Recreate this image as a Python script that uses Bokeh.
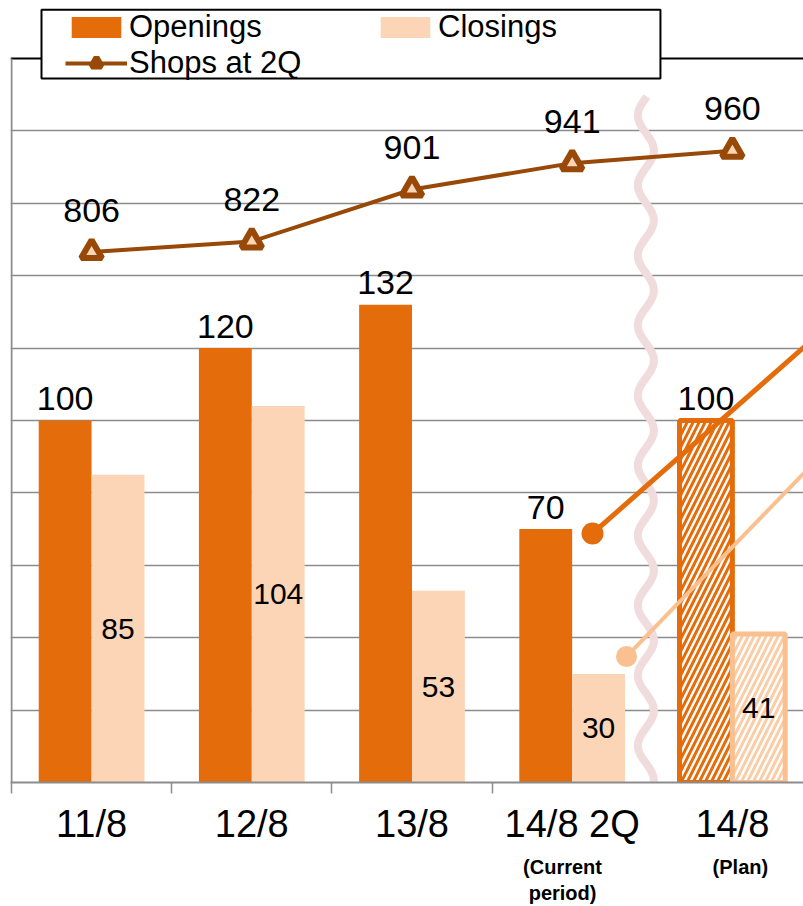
import numpy as np
from bokeh.plotting import figure
from bokeh.models import (Range1d, FixedTicker, Grid, Span, Legend, LegendItem,
                          BoxAnnotation, ColumnDataSource, LinearAxis)
from bokeh.core.properties import value
from bokeh.embed import file_html
from bokeh.resources import INLINE

# ---- data -------------------------------------------------------------
periods = ["11/8", "12/8", "13/8", "14/8 2Q", "14/8"]
openings = [100, 120, 132, 70, 100]        # shop openings per period
closings = [85, 104, 53, 30, 41]           # shop closings per period
shops = [806, 822, 901, 941, 960]          # shops at 2Q (right scale)
plan_index = 4                             # last period is the plan
note_x = [2.94, 4.05]                      # notes under the last two periods
notes = ["(Current\nperiod)", "(Plan)"]

# callout lines leading out of the chart to the right (x in period units, y in bar units)
callout_open_x = [3.127, 4.62]
callout_open_y = [68.8, 127.0]
callout_close_x = [3.339, 4.62]
callout_close_y = [34.8, 93.4]

# ---- style ------------------------------------------------------------
ORANGE = "#E46C0A"
PEACH = "#FBD5B5"
PEACH_LINE = "#FAC090"
BROWN = "#984807"
GRID = "#8C8C8C"
BREAK = "#F0DCDC"
FONT = "Liberation Sans"

BAR_W = 0.33
BAR_MAX = 200          # top border of the bar scale
PX_UNIT = 3.62         # pixels per bar unit (frame 782 px tall)
xs = list(range(len(periods)))
actual = [i for i in xs if i != plan_index]

act_src = ColumnDataSource(dict(
    xo=[i - BAR_W / 2 for i in actual],
    xc=[i + BAR_W / 2 for i in actual],
    op=[openings[i] for i in actual],
    cl=[closings[i] for i in actual],
))
plan_src = ColumnDataSource(dict(
    xo=[plan_index - BAR_W / 2],
    xc=[plan_index + BAR_W / 2],
    op=[openings[plan_index]],
    cl=[closings[plan_index]],
))
lab_src = ColumnDataSource(dict(
    xo=[i - BAR_W / 2 for i in xs],
    xc=[i + BAR_W / 2 for i in xs],
    op=openings,
    cl_mid=[c / 2 for c in closings],
    op_txt=[str(v) for v in openings],
    cl_txt=[str(v) for v in closings],
))
shop_src = ColumnDataSource(dict(x=xs, y=shops, txt=[str(v) for v in shops]))

y_top = BAR_MAX + 58 / PX_UNIT             # room above the chart for the legend
p = figure(width=803, height=906, output_backend="svg", toolbar_location=None,
           x_range=Range1d(-0.5 - 1 / 160.2, 4.444), y_range=Range1d(0, y_top),
           y_axis_location=None, min_border_left=10, min_border_right=0,
           min_border_top=0, min_border_bottom=124)
p.extra_y_ranges = {"shops": Range1d(0, 1100 * y_top / BAR_MAX)}
p.outline_line_color = None
p.center = [r for r in p.center if not isinstance(r, Grid)]
p.background_fill_color = "white"
p.border_fill_color = "white"

# horizontal gridlines
p.add_layout(Grid(dimension=1, ticker=FixedTicker(ticks=list(range(20, BAR_MAX, 20))),
                  grid_line_color=GRID, grid_line_width=1.5, level="underlay"))
# top border and left axis line
p.add_layout(Span(location=BAR_MAX, dimension="width", line_color="black",
                  line_width=2, level="underlay"))
p.line([-0.5, -0.5], [0, BAR_MAX], line_color=GRID, line_width=2)

# x axis: labels at period centres, tick marks between periods
ax = p.xaxis[0]
ax.ticker = FixedTicker(ticks=xs, minor_ticks=[-0.5, 0.5, 1.5, 2.5])
ax.major_label_overrides = {i: t for i, t in zip(xs, periods)}
ax.axis_line_color = GRID
ax.axis_line_width = 2
ax.major_tick_out = 0
ax.major_tick_in = 0
ax.minor_tick_out = 11
ax.minor_tick_in = 0
ax.minor_tick_line_color = GRID
ax.minor_tick_line_width = 1.5
ax.major_label_text_font = FONT
ax.major_label_text_font_size = "38px"
ax.major_label_text_color = "black"
ax.major_label_standoff = 9

# second row of period notes
note_axis = LinearAxis(ticker=FixedTicker(ticks=note_x),
                       major_label_overrides={x: t for x, t in zip(note_x, notes)},
                       axis_line_color=None, major_tick_line_color=None,
                       minor_tick_line_color=None, major_tick_out=0,
                       major_label_standoff=8, major_label_text_font=FONT,
                       major_label_text_font_size="20px",
                       major_label_text_font_style="bold",
                       major_label_text_color="black",
                       major_label_text_line_height=1.2)
p.add_layout(note_axis, "below")

# bars (actual periods)
r_open = p.vbar(x="xo", top="op", width=BAR_W, source=act_src,
                fill_color=ORANGE, line_color=None)
r_close = p.vbar(x="xc", top="cl", width=BAR_W, source=act_src,
                 fill_color=PEACH, line_color=None)
# bars (plan) – hatched outlines
p.vbar(x="xo", top="op", width=BAR_W, source=plan_src, fill_color="white",
       line_color=ORANGE, line_width=5, hatch_pattern="/", hatch_color=ORANGE,
       hatch_scale=12, hatch_weight=3)
p.vbar(x="xc", top="cl", width=BAR_W, source=plan_src, fill_color="white",
       line_color=PEACH_LINE, line_width=5, hatch_pattern="/",
       hatch_color=PEACH_LINE, hatch_alpha=0.8, hatch_scale=12, hatch_weight=3)

# axis break marker between the current period and the plan
wy = np.linspace(189.5, -5, 500)
wx = 3.46 + 0.05 * np.cos(2 * np.pi * (wy - 174.6) / 19.34)
p.line(wx, wy, line_color=BREAK, line_width=8)

# callouts
p.line(callout_open_x, callout_open_y, line_color=ORANGE, line_width=5)
p.scatter(callout_open_x[:1], callout_open_y[:1], size=22, fill_color=ORANGE,
          line_color=None)
p.line(callout_close_x, callout_close_y, line_color=PEACH_LINE, line_width=4)
p.scatter(callout_close_x[:1], callout_close_y[:1], size=21,
          fill_color=PEACH_LINE, line_color=None)

# shops line
r_shop_line = p.line("x", "y", source=shop_src, y_range_name="shops",
                     line_color=BROWN, line_width=4)
r_shop_pts = p.scatter("x", "y", source=shop_src, y_range_name="shops",
                       marker="triangle", size=21, fill_color=PEACH,
                       line_color=BROWN, line_width=6)

# value labels
p.text(x="xo", y="op", text="op_txt", source=lab_src, text_align="center",
       text_baseline="alphabetic", y_offset=-22, text_font=value(FONT),
       text_font_size="34px", text_color="black")
p.text(x="xc", y="cl_mid", text="cl_txt", source=lab_src, text_align="center",
       text_baseline="middle", text_font=value(FONT), text_font_size="30px",
       text_color="black")
p.text(x="x", y="y", text="txt", source=shop_src, y_range_name="shops",
       text_align="center", text_baseline="alphabetic", y_offset=-42,
       text_font=value(FONT), text_font_size="34px", text_color="black")

# legend frame and legend
p.add_layout(BoxAnnotation(left=-0.3127, right=3.551, bottom=194.5, top=213.5,
                           fill_color="white", fill_alpha=1,
                           line_color="black", line_alpha=1, line_width=2))
legend = Legend(items=[
    LegendItem(label="Openings", renderers=[r_open]),
    LegendItem(label="Closings", renderers=[r_close]),
    LegendItem(label="Shops at 2Q", renderers=[r_shop_line, r_shop_pts]),
], location=(55, 701), orientation="horizontal", ncols=2, glyph_width=62,
    glyph_height=26, label_standoff=2, label_width=245, spacing=0, padding=0,
    margin=0, border_line_color=None, background_fill_alpha=0,
    label_text_font=FONT, label_text_font_size="31px",
    label_text_color="black")
p.add_layout(legend)

open("out.html", "w").write(file_html(p, INLINE))
